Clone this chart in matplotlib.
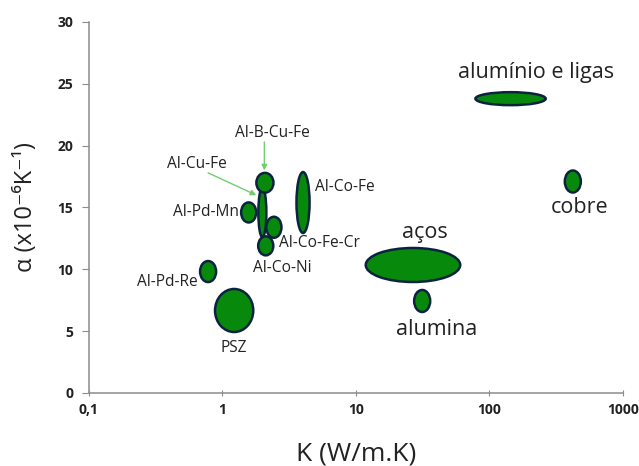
import matplotlib

matplotlib.use("Agg")
matplotlib.rcParams["font.family"] = ["Open Sans", "DejaVu Sans"]
import matplotlib.pyplot as plt
import matplotlib.ticker as mticker
import numpy as np
from matplotlib.patches import Ellipse

FILL = "#078a0b"
EDGE = "#0c2340"
ARROW = "#6dcf6d"
TEXT = "#222222"
AXIS = "#8c8c8c"

# material regions: centre (K, alpha), width in decades of K, height in alpha units
NAMES = ["alumínio e ligas", "cobre", "aços", "alumina", "Al-Co-Fe", "Al-Cu-Fe",
         "Al-B-Cu-Fe", "Al-Pd-Mn", "Al-Co-Fe-Cr", "Al-Co-Ni", "Al-Pd-Re", "PSZ"]
K_CENTER = [144, 421, 26.8, 31.4, 4.03, 2.0, 2.09, 1.58, 2.44, 2.12, 0.785, 1.23]
A_CENTER = [23.8, 17.1, 10.35, 7.44, 15.4, 14.6, 17.0, 14.6, 13.4, 11.9, 9.82, 6.67]
K_SPAN_DEC = [0.526, 0.12, 0.707, 0.12, 0.098, 0.06, 0.128, 0.113, 0.113, 0.113, 0.12, 0.286]
A_SPAN = [1.05, 1.78, 2.75, 1.78, 4.93, 4.0, 1.6, 1.62, 1.7, 1.54, 1.7, 3.48]

# label positions (K, alpha)
BIG_LABELS = ["alumínio e ligas", "cobre", "aços", "alumina"]
BIG_K = [222, 475, 33, 40.6]
BIG_A = [25.9, 15.0, 13.0, 5.1]

SMALL_LABELS = ["Al-Co-Fe", "Al-Pd-Mn", "Al-Co-Fe-Cr", "Al-Co-Ni", "Al-Pd-Re", "PSZ",
                "Al-B-Cu-Fe", "Al-Cu-Fe"]
SMALL_K = [8.26, 1.33, 5.36, 2.83, 0.386, 1.23, 2.38, 0.649]
SMALL_A = [16.65, 14.6, 12.1, 10.1, 8.97, 3.64, 21.0, 18.5]
SMALL_HA = ["center", "right", "center", "center", "center", "center", "center", "center"]

# arrows: (start K, start alpha) -> (end K, end alpha)
ARROW_FROM = [(2.07, 20.3), (0.785, 17.8)]
ARROW_TO = [(2.07, 18.0), (1.80, 16.0)]

X_TICKS = [0.1, 1, 10, 100, 1000]
X_TICK_LABELS = ["0,1", "1", "10", "100", "1000"]
Y_TICKS = [0, 5, 10, 15, 20, 25, 30]


def main():
    fig = plt.figure(figsize=(6.39, 4.66), dpi=100)
    ax = fig.add_axes([0.1385, 0.1567, 0.8365, 0.7961])
    ax.set_xscale("log")
    ax.set_xlim(0.1, 1000)
    ax.set_ylim(0, 30)

    # ellipses are drawn in (log10 K, alpha) space so they stay symmetric
    log_tr = ax.transLimits + ax.transAxes
    for kc, ac, wd, ht in zip(K_CENTER, A_CENTER, K_SPAN_DEC, A_SPAN):
        e = Ellipse((np.log10(kc), ac), wd, ht, transform=log_tr,
                    facecolor=FILL, edgecolor=EDGE, linewidth=1.8, zorder=3)
        ax.add_patch(e)

    for name, k, a in zip(BIG_LABELS, BIG_K, BIG_A):
        ax.text(k, a, name, ha="center", va="center", fontsize=15.5, color=TEXT)

    for name, k, a, ha in zip(SMALL_LABELS, SMALL_K, SMALL_A, SMALL_HA):
        ax.text(k, a, name, ha=ha, va="center", fontsize=11.2, color=TEXT)

    for (k0, a0), (k1, a1) in zip(ARROW_FROM, ARROW_TO):
        ax.annotate("", xy=(k1, a1), xytext=(k0, a0),
                    arrowprops=dict(arrowstyle="-|>", color=ARROW, lw=1.0,
                                    mutation_scale=8, shrinkA=0, shrinkB=0))

    ax.spines[["top", "right"]].set_visible(False)
    for s in ["left", "bottom"]:
        ax.spines[s].set_color(AXIS)
        ax.spines[s].set_linewidth(1.1)

    ax.set_xticks(X_TICKS)
    ax.set_xticklabels(X_TICK_LABELS)
    ax.xaxis.set_minor_locator(mticker.NullLocator())
    ax.set_yticks(Y_TICKS)
    ax.tick_params(axis="x", direction="inout", length=5, color=AXIS, pad=5)
    ax.tick_params(axis="y", direction="out", length=5, color=AXIS, pad=6)
    for lab in ax.get_xticklabels() + ax.get_yticklabels():
        lab.set_fontweight("bold")
        lab.set_fontsize(10)
        lab.set_color(TEXT)

    ax.set_xlabel("K (W/m.K)", fontsize=19, color=TEXT, labelpad=17)
    ax.set_ylabel("α (x10⁻⁶K⁻¹)", fontsize=17, color=TEXT, labelpad=14)

    fig.savefig("out.png", dpi=100, facecolor="white")
    plt.close(fig)


if __name__ == "__main__":
    main()
